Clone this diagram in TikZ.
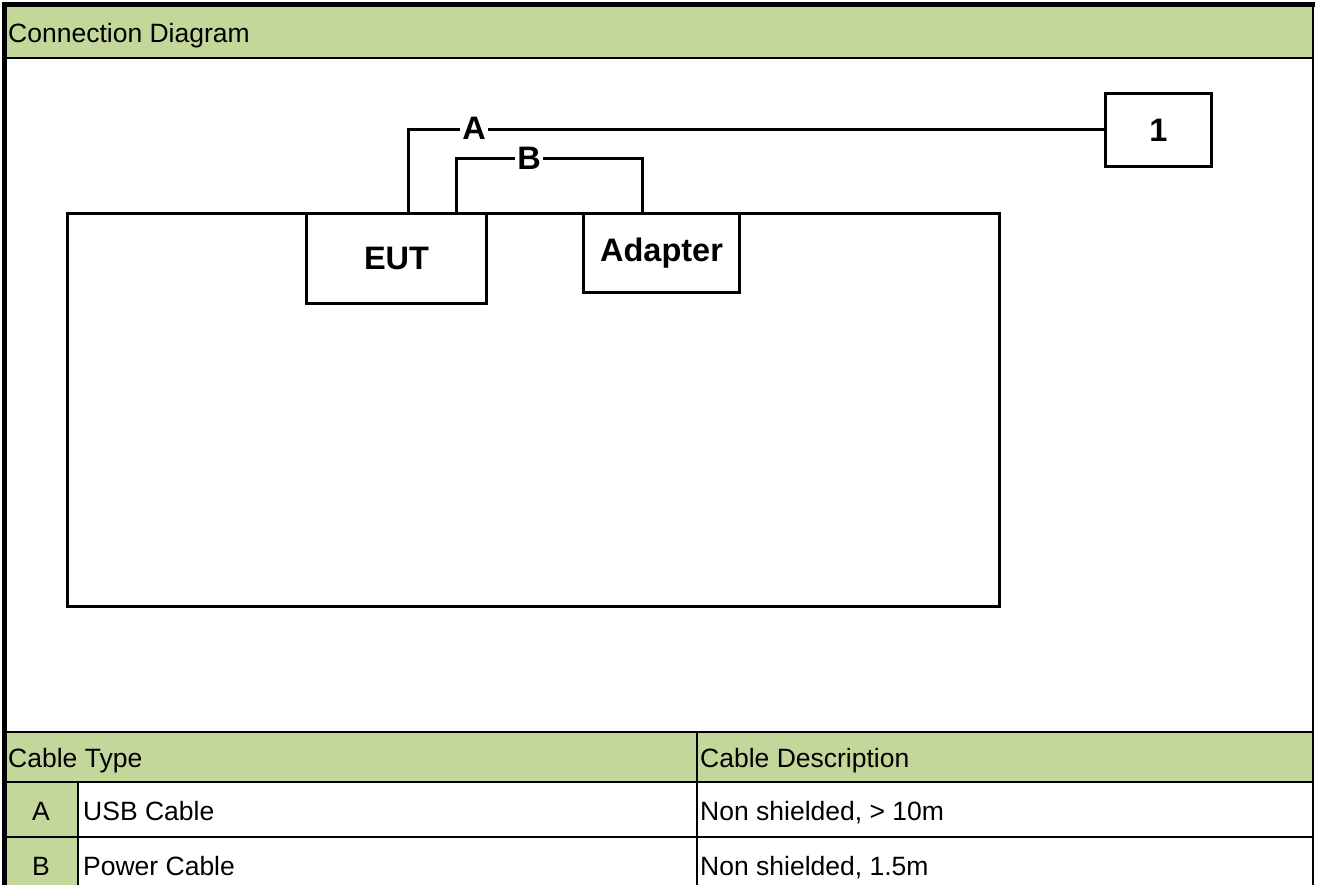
\documentclass[tikz,border=0pt]{standalone}
\usepackage{fontspec}
\setmainfont{Liberation Sans}
\usetikzlibrary{calc}
\definecolor{hdrgreen}{RGB}{196,215,155}
\begin{document}
\begin{tikzpicture}[x=1pt,y=-1pt,
  cell/.style={anchor=base west, inner sep=0pt, font=\fontsize{26.5}{30}\selectfont},
  dev/.style={draw, line width=3pt, fill=white, font=\bfseries\fontsize{32.5}{36}\selectfont, inner sep=0pt},
  cable/.style={line width=3pt},
  cablelbl/.style={fill=white, inner xsep=2pt, inner ysep=0pt, font=\bfseries\fontsize{32.5}{36}\selectfont},
  grid/.style={line width=2pt}]
\useasboundingbox (0,0) rectangle (1317,885);
% fills
\fill[hdrgreen] (5,5) rectangle (1313,58);
\fill[hdrgreen] (5,732) rectangle (1313,782);
\fill[hdrgreen] (5,782) rectangle (78,885);
% grid lines
\draw[grid] (5,58) -- (1313,58);
\draw[grid] (5,732) -- (1313,732);
\draw[grid] (5,782) -- (1313,782);
\draw[grid] (5,837) -- (1313,837);
\draw[grid] (78,782) -- (78,885);
\draw[grid] (697,732) -- (697,885);
\draw[grid] (1313,5) -- (1313,885);
% outer thick border
\draw[line width=5pt] (4.5,885) -- (4.5,4.5) -- (1315,4.5);
% texts
\node[cell] (title) at (8,43) {Connection Diagram};
\node[cell] (cabletype) at (8,767) {Cable Type};
\node[cell] (cabledesc) at (700,767) {Cable Description};
\node[cell,anchor=base] (ra) at (41,820) {A};
\node[cell] (usb) at (83,820) {USB Cable};
\node[cell] (usbdesc) at (700,820) {Non shielded, > 10m};
\node[cell,anchor=base] (rb) at (41,875) {B};
\node[cell] (pwr) at (83,875) {Power Cable};
\node[cell] (pwrdesc) at (700,875) {Non shielded, 1.5m};
% diagram
\node[draw, line width=3pt, minimum width=932pt, minimum height=393pt, anchor=north west, inner sep=0pt] (tbl) at (66,212) {};
\node[dev, minimum width=180pt, minimum height=90pt, anchor=north west] (eut) at (305,212) {EUT};
\node[dev, minimum width=156pt, minimum height=79pt, anchor=north west] (adp) at (582,212) {Adapter};
\node[dev, minimum width=106pt, minimum height=73pt, anchor=north west] (aux) at (1104,92) {1};
% cables
\draw[cable] ($(eut.north west)+(103,0)$) |- (aux.west);
\draw[cable] ($(eut.north west)+(151,0)$) -- ++(0,-53) -| ($(adp.north west)+(60,0)$);
\node[cablelbl] (la) at (474,128.5) {A};
\node[cablelbl] (lb) at (529,158.5) {B};
\end{tikzpicture}
\end{document}
